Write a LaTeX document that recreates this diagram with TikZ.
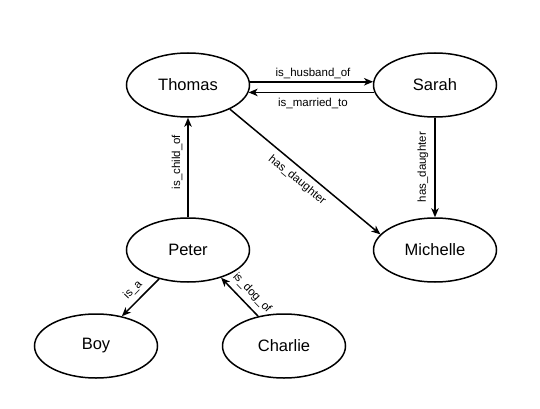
\documentclass[tikz,border=0pt]{standalone}
\usepackage{fontspec}
\setmainfont{Liberation Sans}
\usetikzlibrary{shapes.geometric,arrows.meta}
\begin{document}
\begin{tikzpicture}[x=1pt,y=-1pt,
  ent/.style={ellipse,draw,line width=1.5pt,minimum width=123pt,minimum height=64pt,inner sep=0pt,font=\fontsize{16.5}{18}\selectfont},
  rel/.style={line width=1.5pt,-{Stealth[length=9pt,width=7.5pt,inset=2.5pt]}},
  lab/.style={font=\fontsize{11.5}{13}\selectfont,inner sep=0pt}]
\useasboundingbox[fill=white] (0,0) rectangle (540,409);
\node[ent] (thomas) at (188,85) {Thomas};
\node[ent] (sarah) at (435,85) {Sarah};
\node[ent] (peter) at (188,250) {Peter};
\node[ent] (michelle) at (435,250) {Michelle};
\node[ent] (boy) at (96,346) {Boy};
\node[ent] (charlie) at (284,346) {Charlie};

\draw[rel] (thomas.3) -- (sarah.177);
\draw[rel] (sarah.187) -- (thomas.-7);
\draw[rel] (peter.north) -- (thomas.south);
\draw[rel] (sarah.south) -- (michelle.north);
\draw[rel] (thomas.-30) -- (michelle.164);
\draw[rel] (peter.-135) -- (boy.49);
\draw[rel] (charlie.131) -- (peter.-40);

\node[lab] (l1) at (313,73) {is\_husband\_of};
\node[lab] (l2) at (313,103) {is\_married\_to};
\node[lab,rotate=90] (l3) at (177,162) {is\_child\_of};
\node[lab,rotate=90] (l4) at (423,167) {has\_daughter};
\node[lab,rotate=-39.3] (l5) at (297,180) {has\_daughter};
\node[lab,rotate=46] (l6) at (133,290) {is\_a};
\node[lab,rotate=-46] (l7) at (252,293) {is\_dog\_of};
\end{tikzpicture}
\end{document}
